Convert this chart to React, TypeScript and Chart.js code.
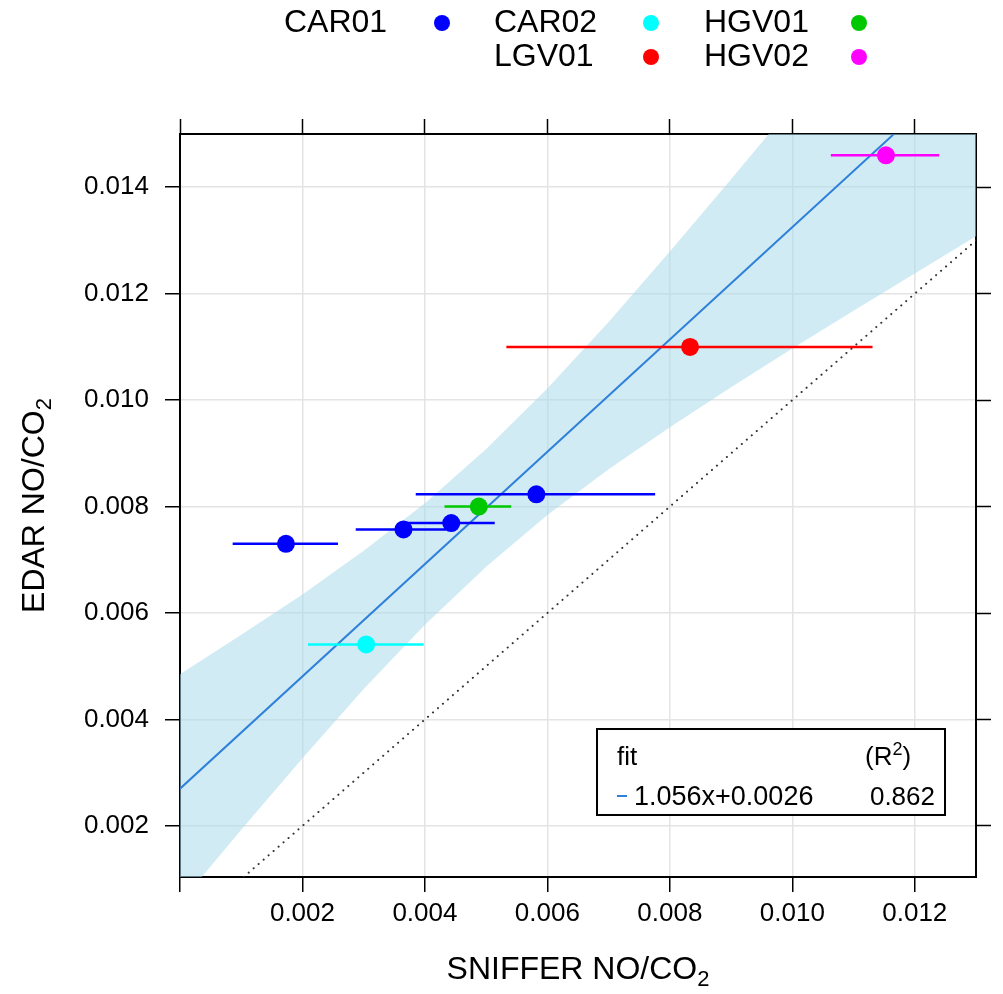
import React, { useEffect, useRef } from 'react';
import { Chart, registerables } from 'chart.js';

Chart.register(...registerables);

const FONT = '"Liberation Sans", Arial, Helvetica, sans-serif';

// axis ranges and ticks
const X_MIN = 0;
const X_MAX = 0.013;
const Y_MIN = 0.00104;
const Y_MAX = 0.015;
const xTickValues = [0, 0.002, 0.004, 0.006, 0.008, 0.01, 0.012];
const yTickValues = [0.002, 0.004, 0.006, 0.008, 0.01, 0.012, 0.014];

// groups
const groupNames = ['CAR01', 'CAR02', 'HGV01', 'LGV01', 'HGV02'];
const groupColors = ['#0000ff', '#00ffff', '#00c800', '#ff0000', '#ff00ff'];

// points (x = SNIFFER, y = EDAR) and x-uncertainty ranges
const car01X = [0.00173, 0.00365, 0.00443, 0.00582];
const car01Y = [0.0073, 0.00757, 0.00769, 0.00823];
const car01Lo = [0.00086, 0.00287, 0.00369, 0.00385];
const car01Hi = [0.00258, 0.00435, 0.00514, 0.00776];

const car02X = [0.00304];
const car02Y = [0.00541];
const car02Lo = [0.00209];
const car02Hi = [0.00398];

const hgv01X = [0.00488];
const hgv01Y = [0.008];
const hgv01Lo = [0.00432];
const hgv01Hi = [0.00541];

const lgv01X = [0.00833];
const lgv01Y = [0.011];
const lgv01Lo = [0.00533];
const lgv01Hi = [0.01131];

const hgv02X = [0.01153];
const hgv02Y = [0.0146];
const hgv02Lo = [0.01063];
const hgv02Hi = [0.0124];

// regression fit line and its confidence band
const fitX = [0, 0.01165];
const fitY = [0.0027, 0.01499];
const bandX = [0, 0.001, 0.002, 0.003, 0.004, 0.005, 0.006, 0.007, 0.008, 0.009, 0.01, 0.011, 0.012, 0.013];
const bandUpper = [0.00485, 0.00559, 0.00635, 0.00717, 0.00806, 0.00908, 0.01022, 0.01147, 0.01279, 0.01415, 0.01553, 0.01693, 0.01834, 0.01976];
const bandLower = [0.00055, 0.00193, 0.00327, 0.00457, 0.00578, 0.00687, 0.00784, 0.0087, 0.00949, 0.01024, 0.01097, 0.01168, 0.01238, 0.01308];

// 1:1 line
const identityX = [0.00104, 0.013];
const identityY = [0.00104, 0.013];

const fitLabel = '1.056x+0.0026';
const r2Label = '0.862';
const FIT_COLOR = '#2f80da';

const groupData = [
  { x: car01X, y: car01Y, lo: car01Lo, hi: car01Hi },
  { x: car02X, y: car02Y, lo: car02Lo, hi: car02Hi },
  { x: hgv01X, y: hgv01Y, lo: hgv01Lo, hi: hgv01Hi },
  { x: lgv01X, y: lgv01Y, lo: lgv01Lo, hi: lgv01Hi },
  { x: hgv02X, y: hgv02Y, lo: hgv02Lo, hi: hgv02Hi },
];

function drawScript(
  ctx: CanvasRenderingContext2D,
  x: number,
  y: number,
  main: string,
  script: string,
  size: number,
  align: 'left' | 'center' | 'right',
  sup: boolean,
  tail = ''
) {
  ctx.font = `${size}px ${FONT}`;
  const w1 = ctx.measureText(main).width;
  const ss = Math.round(size * 0.7);
  ctx.font = `${ss}px ${FONT}`;
  const w2 = ctx.measureText(script).width;
  ctx.font = `${size}px ${FONT}`;
  const w3 = ctx.measureText(tail).width;
  const total = w1 + w2 + w3;
  let x0 = x;
  if (align === 'center') x0 = x - total / 2;
  if (align === 'right') x0 = x - total;
  ctx.textAlign = 'left';
  ctx.textBaseline = 'alphabetic';
  ctx.fillText(main, x0, y);
  ctx.font = `${ss}px ${FONT}`;
  ctx.fillText(script, x0 + w1, sup ? y - size * 0.4 : y + size * 0.22);
  ctx.font = `${size}px ${FONT}`;
  if (tail) ctx.fillText(tail, x0 + w1 + w2, y);
}

const decorPlugin = {
  id: 'decor',
  afterDraw(chart: any) {
    const ctx: CanvasRenderingContext2D = chart.ctx;
    const area = chart.chartArea;
    ctx.save();
    ctx.fillStyle = '#000';

    // x title
    drawScript(ctx, (area.left + area.right) / 2, 979, 'SNIFFER NO/CO', '2', 32, 'center', false);

    // y title
    ctx.save();
    ctx.translate(44, (area.top + area.bottom) / 2);
    ctx.rotate(-Math.PI / 2);
    drawScript(ctx, 0, 0, 'EDAR NO/CO', '2', 32, 'center', false);
    ctx.restore();

    // legend at top
    const legendItems = [
      { g: 0, tx: 284, dx: 442, ty: 23 },
      { g: 1, tx: 494, dx: 651, ty: 23 },
      { g: 2, tx: 704, dx: 859, ty: 23 },
      { g: 3, tx: 494, dx: 651, ty: 57 },
      { g: 4, tx: 704, dx: 859, ty: 57 },
    ];
    ctx.font = `32px ${FONT}`;
    ctx.textBaseline = 'middle';
    for (const it of legendItems) {
      ctx.fillStyle = '#000';
      ctx.textAlign = 'left';
      ctx.fillText(groupNames[it.g], it.tx, it.ty);
      ctx.fillStyle = groupColors[it.g];
      ctx.beginPath();
      ctx.arc(it.dx, it.ty, 8, 0, Math.PI * 2);
      ctx.fill();
    }

    // fit box
    const bx = 597, by = 729, bw = 348, bh = 86;
    ctx.fillStyle = '#fff';
    ctx.fillRect(bx, by, bw, bh);
    ctx.strokeStyle = '#000';
    ctx.lineWidth = 2;
    ctx.strokeRect(bx, by, bw, bh);
    ctx.fillStyle = '#000';
    ctx.font = `26px ${FONT}`;
    ctx.textAlign = 'left';
    ctx.textBaseline = 'alphabetic';
    ctx.fillText('fit', 617, 765);
    drawScript(ctx, 865, 765, '(R', '2', 26, 'left', true, ')');
    ctx.font = `27px ${FONT}`;
    ctx.textAlign = 'left';
    ctx.fillText(fitLabel, 634, 805);
    ctx.font = `26px ${FONT}`;
    ctx.textAlign = 'right';
    ctx.fillText(r2Label, 935, 805);
    ctx.strokeStyle = FIT_COLOR;
    ctx.lineWidth = 2;
    ctx.beginPath();
    ctx.moveTo(617, 796);
    ctx.lineTo(627, 796);
    ctx.stroke();

    ctx.restore();
  },
};

export default function App() {
  const ref = useRef<HTMLCanvasElement | null>(null);

  useEffect(() => {
    document.body.style.margin = '0';
    const canvas = ref.current;
    if (!canvas) return;

    const datasets: any[] = [];

    // points
    groupData.forEach((g, gi) => {
      datasets.push({
        type: 'line',
        label: groupNames[gi],
        data: g.x.map((v, i) => ({ x: v, y: g.y[i] })),
        showLine: false,
        pointRadius: 9,
        pointHoverRadius: 9,
        pointBackgroundColor: groupColors[gi],
        pointBorderWidth: 0,
        borderColor: groupColors[gi],
        xAxisID: 'x',
        yAxisID: 'y',
        order: 0,
      });
    });

    // error bars
    groupData.forEach((g, gi) => {
      g.x.forEach((_, i) => {
        datasets.push({
          type: 'line',
          label: groupNames[gi] + ' range',
          data: [
            { x: g.lo[i], y: g.y[i] },
            { x: g.hi[i], y: g.y[i] },
          ],
          borderColor: groupColors[gi],
          borderWidth: 2.5,
          pointRadius: 0,
          fill: false,
          xAxisID: 'x',
          yAxisID: 'y',
          order: 1,
        });
      });
    });

    // fit line
    datasets.push({
      type: 'line',
      label: 'fit',
      data: fitX.map((v, i) => ({ x: v, y: fitY[i] })),
      borderColor: FIT_COLOR,
      borderWidth: 2,
      pointRadius: 0,
      fill: false,
      xAxisID: 'x',
      yAxisID: 'y',
      order: 2,
    });

    // identity line
    datasets.push({
      type: 'line',
      label: '1:1',
      data: identityX.map((v, i) => ({ x: v, y: identityY[i] })),
      borderColor: '#333',
      borderWidth: 2,
      borderDash: [0.1, 6.5],
      borderCapStyle: 'round',
      pointRadius: 0,
      fill: false,
      xAxisID: 'x',
      yAxisID: 'y',
      order: 3,
    });

    // band
    const lowerIndex = datasets.length + 1;
    datasets.push({
      type: 'line',
      label: 'band upper',
      data: bandX.map((v, i) => ({ x: v, y: bandUpper[i] })),
      borderWidth: 0,
      borderColor: 'rgba(0,0,0,0)',
      backgroundColor: 'rgba(170,218,234,0.55)',
      pointRadius: 0,
      fill: lowerIndex,
      xAxisID: 'x',
      yAxisID: 'y',
      order: 4,
    });
    datasets.push({
      type: 'line',
      label: 'band lower',
      data: bandX.map((v, i) => ({ x: v, y: bandLower[i] })),
      borderWidth: 0,
      borderColor: 'rgba(0,0,0,0)',
      pointRadius: 0,
      fill: false,
      xAxisID: 'x',
      yAxisID: 'y',
      order: 5,
    });

    const tickFont = { family: FONT, size: 26 };
    const fmt = (v: any) => (Number(v) === 0 ? '' : Number(v).toFixed(3));

    const chart = new Chart(canvas, {
      type: 'line',
      data: { datasets },
      options: {
        responsive: false,
        animation: false,
        devicePixelRatio: 1,
        layout: { padding: 0 },
        plugins: {
          legend: { display: false },
          tooltip: { enabled: false },
          title: { display: false },
        },
        scales: {
          x: {
            type: 'linear',
            position: 'bottom',
            min: X_MIN,
            max: X_MAX,
            afterBuildTicks: (s: any) => {
              s.ticks = xTickValues.map((v) => ({ value: v }));
            },
            afterFit: (s: any) => {
              s.height = 117;
            },
            ticks: { callback: fmt, font: tickFont, color: '#000', padding: 6, maxRotation: 0, autoSkip: false },
            grid: { color: '#e4e4e4', lineWidth: 1.5, tickColor: '#000', tickLength: 15, tickWidth: 1.5 },
            border: { color: '#000', width: 2 },
          },
          x2: {
            type: 'linear',
            position: 'top',
            min: X_MIN,
            max: X_MAX,
            afterBuildTicks: (s: any) => {
              s.ticks = xTickValues.map((v) => ({ value: v }));
            },
            afterFit: (s: any) => {
              s.height = 134;
            },
            ticks: { display: false },
            grid: { drawOnChartArea: false, tickColor: '#000', tickLength: 15, tickWidth: 1.5 },
            border: { color: '#000', width: 2 },
          },
          y: {
            type: 'linear',
            position: 'left',
            min: Y_MIN,
            max: Y_MAX,
            afterBuildTicks: (s: any) => {
              s.ticks = yTickValues.map((v) => ({ value: v }));
            },
            afterFit: (s: any) => {
              s.width = 180;
            },
            ticks: { callback: fmt, font: tickFont, color: '#000', padding: 16, autoSkip: false },
            grid: { color: '#e4e4e4', lineWidth: 1.5, tickColor: '#000', tickLength: 15, tickWidth: 1.5 },
            border: { color: '#000', width: 2 },
          },
          y2: {
            type: 'linear',
            position: 'right',
            min: Y_MIN,
            max: Y_MAX,
            afterBuildTicks: (s: any) => {
              s.ticks = yTickValues.map((v) => ({ value: v }));
            },
            afterFit: (s: any) => {
              s.width = 27;
            },
            ticks: { display: false },
            grid: { drawOnChartArea: false, tickColor: '#000', tickLength: 15, tickWidth: 1.5 },
            border: { color: '#000', width: 2 },
          },
        },
      } as any,
      plugins: [decorPlugin],
    });

    return () => {
      chart.destroy();
    };
  }, []);

  return (
    <div style={{ width: 1003, height: 994, background: '#fff' }}>
      <canvas ref={ref} width={1003} height={994} style={{ display: 'block', width: 1003, height: 994 }} />
    </div>
  );
}
